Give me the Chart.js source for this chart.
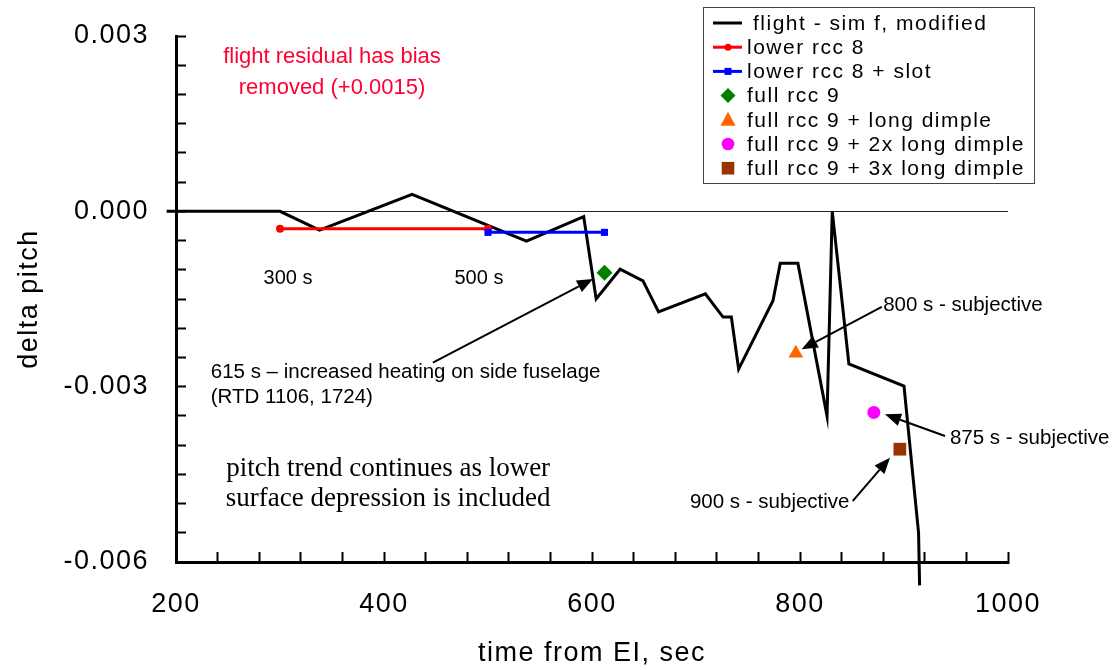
<!DOCTYPE html>
<html>
<head>
<meta charset="utf-8">
<script src="https://cdn.jsdelivr.net/npm/chart.js@4.4.1/dist/chart.umd.min.js"></script>
<style>
  html, body { margin: 0; padding: 0; background: #ffffff; }
  #wrap { width: 1116px; height: 670px; position: relative; }
</style>
</head>
<body>
<div id="wrap"><canvas id="c" width="1116" height="670"></canvas></div>
<script>
// ---------------- data ----------------
const flightTime  = [191, 300, 338, 427, 537, 592, 604, 627, 649, 664, 709, 726, 734, 741, 774, 781, 798, 826, 831, 847, 900, 914, 915];
const flightDelta = [0, 0, -0.00032, 0.00029, -0.00051, -0.00009, -0.00150, -0.00099, -0.00119, -0.00172, -0.00141, -0.00181, -0.00181, -0.00270, -0.00153, -0.00089, -0.00089, -0.00350, 0.00000, -0.00261, -0.00299, -0.00550, -0.00640];

const rcc8Time = [300, 500];
const rcc8Delta = [-0.00030, -0.00030];

const rcc8SlotTime = [500, 612];
const rcc8SlotDelta = [-0.00036, -0.00036];

const rcc9Time = [612];
const rcc9Delta = [-0.00105];

const rcc9DimpleTime = [796];
const rcc9DimpleDelta = [-0.00243];

const rcc9Dimple2Time = [871];
const rcc9Dimple2Delta = [-0.00344];

const rcc9Dimple3Time = [896];
const rcc9Dimple3Delta = [-0.00407];

const xTickLabels = [200, 400, 600, 800, 1000];
const yTickLabels = [0.003, 0.000, -0.003, -0.006];

const seriesNames = [
  'flight - sim f, modified',
  'lower rcc 8',
  'lower rcc 8 + slot',
  'full rcc 9',
  'full rcc 9 + long dimple',
  'full rcc 9 + 2x long dimple',
  'full rcc 9 + 3x long dimple'
];

// annotation texts anchored in data units (time, delta)
const noteTexts = [
  { lines: ['flight residual has bias', 'removed (+0.0015)'], t: 350, v: 0.00254, align: 'center', font: '22px "Liberation Sans", Arial, sans-serif', color: '#ff0033', lh: 31 },
  { lines: ['300 s'], t: 307.7, v: -0.00124, align: 'center', font: '20px "Liberation Sans", Arial, sans-serif', color: '#000', lh: 0 },
  { lines: ['500 s'], t: 491.3, v: -0.00124, align: 'center', font: '20px "Liberation Sans", Arial, sans-serif', color: '#000', lh: 0 },
  { lines: ['615 s \u2013 increased heating on side fuselage', '(RTD 1106, 1724)'], t: 233.4, v: -0.00285, align: 'left', font: '20.5px "Liberation Sans", Arial, sans-serif', color: '#000', lh: 25 },
  { lines: ['pitch trend continues as lower', 'surface depression is included'], t: 404, v: -0.004525, align: 'center', font: '27px "Liberation Serif", "Times New Roman", serif', color: '#000', lh: 30 },
  { lines: ['800 s - subjective'], t: 880, v: -0.001702, align: 'left', font: '20.5px "Liberation Sans", Arial, sans-serif', color: '#000', lh: 0 },
  { lines: ['875 s - subjective'], t: 944.2, v: -0.003978, align: 'left', font: '20.5px "Liberation Sans", Arial, sans-serif', color: '#000', lh: 0 },
  { lines: ['900 s - subjective'], t: 694.2, v: -0.005073, align: 'left', font: '20.5px "Liberation Sans", Arial, sans-serif', color: '#000', lh: 0 }
];

// arrows: from (t0,v0) to tip (t1,v1)
const arrowFromT = [447.0, 878.6, 939.4, 850.6];
const arrowFromV = [-0.002589, -0.001634, -0.003844, -0.004957];
const arrowTipT  = [601.0, 801.6, 881.7, 886.5];
const arrowTipV  = [-0.001156, -0.002360, -0.003473, -0.004216];

// ---------------- helpers ----------------
const pts = (xs, ys) => xs.map((x, i) => ({ x: x, y: ys[i] }));
const SANS = '"Liberation Sans", Arial, Helvetica, sans-serif';

function drawMarker(ctx, style, x, y, r, color) {
  ctx.save();
  ctx.fillStyle = color;
  ctx.beginPath();
  if (style === 'circle') {
    ctx.arc(x, y, r, 0, Math.PI * 2);
  } else if (style === 'rect') {
    ctx.rect(x - r, y - r, 2 * r, 2 * r);
  } else if (style === 'rectRot') {
    ctx.moveTo(x, y - r); ctx.lineTo(x + r, y); ctx.lineTo(x, y + r); ctx.lineTo(x - r, y); ctx.closePath();
  } else if (style === 'triangle') {
    ctx.moveTo(x, y - r); ctx.lineTo(x + r * 0.95, y + r * 0.75); ctx.lineTo(x - r * 0.95, y + r * 0.75); ctx.closePath();
  }
  ctx.fill();
  ctx.restore();
}

const spacingPlugin = {
  id: 'spacing',
  beforeDraw(chart) { chart.ctx.letterSpacing = '1.5px'; },
  beforeDatasetsDraw(chart) { chart.ctx.letterSpacing = '0px'; }
};

const annotPlugin = {
  id: 'annot',
  afterDraw(chart) {
    const ctx = chart.ctx;
    const X = chart.scales.x, Y = chart.scales.y;
    const px = t => X.getPixelForValue(t);
    const py = v => Y.getPixelForValue(v);
    ctx.save();
    ctx.letterSpacing = '0px';
    ctx.textBaseline = 'alphabetic';
    noteTexts.forEach(n => {
      ctx.font = n.font;
      ctx.fillStyle = n.color;
      ctx.textAlign = n.align;
      n.lines.forEach((ln, i) => ctx.fillText(ln, px(n.t), py(n.v) + i * n.lh));
    });
    // arrows
    ctx.strokeStyle = '#000';
    ctx.fillStyle = '#000';
    ctx.lineWidth = 2;
    for (let i = 0; i < arrowFromT.length; i++) {
      const x0 = px(arrowFromT[i]), y0 = py(arrowFromV[i]);
      const x1 = px(arrowTipT[i]), y1 = py(arrowTipV[i]);
      const ang = Math.atan2(y1 - y0, x1 - x0);
      const hl = 16, hw = 6.5;
      const bx = x1 - hl * Math.cos(ang), by = y1 - hl * Math.sin(ang);
      ctx.beginPath(); ctx.moveTo(x0, y0); ctx.lineTo(bx, by); ctx.stroke();
      ctx.beginPath();
      ctx.moveTo(x1, y1);
      ctx.lineTo(bx + hw * Math.sin(ang), by - hw * Math.cos(ang));
      ctx.lineTo(bx - hw * Math.sin(ang), by + hw * Math.cos(ang));
      ctx.closePath(); ctx.fill();
    }
    // legend box
    const lx = 703, ly = 7, lw = 331, lh = 176;
    ctx.fillStyle = '#ffffff';
    ctx.fillRect(lx, ly, lw, lh);
    ctx.strokeStyle = '#444';
    ctx.lineWidth = 1;
    ctx.strokeRect(lx + 0.5, ly + 0.5, lw, lh);
    const ds = chart.data.datasets;
    ctx.font = '21px ' + SANS;
    ctx.letterSpacing = '1.5px';
    ctx.textAlign = 'left';
    ctx.textBaseline = 'middle';
    ds.forEach((d, i) => {
      const cy = 23 + i * 24.2;
      const mx = 728;
      if (i < 3) {
        ctx.strokeStyle = d.borderColor;
        ctx.lineWidth = 3;
        ctx.beginPath(); ctx.moveTo(713, cy); ctx.lineTo(742, cy); ctx.stroke();
        if (i === 1) drawMarker(ctx, 'circle', mx, cy, 3.5, d.borderColor);
        if (i === 2) drawMarker(ctx, 'rect', mx, cy, 3.5, d.borderColor);
      } else {
        const sz = { rectRot: 7.5, triangle: 8, circle: 6.3, rect: 6.3 }[d.pointStyle];
        drawMarker(ctx, d.pointStyle, mx, cy, sz, d.backgroundColor);
      }
      ctx.fillStyle = '#000';
      ctx.fillText(d.label, i === 0 ? 753 : 747, cy + 1);
    });
    ctx.restore();
  }
};

new Chart(document.getElementById('c'), {
  type: 'line',
  data: {
    datasets: [
      { label: seriesNames[0], data: pts(flightTime, flightDelta), borderColor: '#000000', backgroundColor: '#000000', borderWidth: 3, pointRadius: 0, tension: 0, clip: false, order: 10 },
      { label: seriesNames[1], data: pts(rcc8Time, rcc8Delta), borderColor: '#ff0000', backgroundColor: '#ff0000', borderWidth: 3, pointStyle: 'circle', pointRadius: 4, pointBorderWidth: 0, order: 5 },
      { label: seriesNames[2], data: pts(rcc8SlotTime, rcc8SlotDelta), borderColor: '#0000ff', backgroundColor: '#0000ff', borderWidth: 3, pointStyle: 'rect', pointRadius: 5, pointBorderWidth: 0, order: 4 },
      { label: seriesNames[3], data: pts(rcc9Time, rcc9Delta), showLine: false, borderColor: '#008000', backgroundColor: '#008000', pointStyle: 'rectRot', pointRadius: 8, pointBorderWidth: 0, order: 3 },
      { label: seriesNames[4], data: pts(rcc9DimpleTime, rcc9DimpleDelta), showLine: false, borderColor: '#ff6600', backgroundColor: '#ff6600', pointStyle: 'triangle', pointRadius: 8.5, pointBorderWidth: 0, order: 2 },
      { label: seriesNames[5], data: pts(rcc9Dimple2Time, rcc9Dimple2Delta), showLine: false, borderColor: '#ff00ff', backgroundColor: '#ff00ff', pointStyle: 'circle', pointRadius: 6.5, pointBorderWidth: 0, order: 1 },
      { label: seriesNames[6], data: pts(rcc9Dimple3Time, rcc9Dimple3Delta), showLine: false, borderColor: '#993300', backgroundColor: '#993300', pointStyle: 'rect', pointRadius: 9, pointBorderWidth: 0, order: 0 }
    ]
  },
  options: {
    responsive: false,
    devicePixelRatio: 1,
    animation: false,
    layout: { padding: { top: 36, right: 108, left: 0, bottom: 0 } },
    plugins: { legend: { display: false }, tooltip: { enabled: false } },
    scales: {
      x: {
        type: 'linear', min: 200, max: 1000,
        ticks: {
          stepSize: 40, autoSkip: false, maxRotation: 0, padding: 36, color: '#000',
          font: { family: SANS, size: 27 },
          callback: v => (xTickLabels.some(l => Math.abs(l - v) < 1e-6) ? String(v) : '')
        },
        grid: { drawOnChartArea: false, drawTicks: true, tickLength: -10, tickWidth: 2, tickColor: '#000' },
        border: { display: true, color: '#000', width: 3 },
        title: { display: true, text: 'time from EI, sec', color: '#000', font: { family: SANS, size: 27 }, padding: { top: 0, bottom: 0 } },
        afterFit: s => { s.height = 108; s.paddingLeft = 0; s.paddingRight = 0; }
      },
      y: {
        type: 'linear', min: -0.006, max: 0.003,
        ticks: {
          stepSize: 0.0005, autoSkip: false, padding: 37, color: '#000',
          font: { family: SANS, size: 27 },
          callback: v => {
            if (!yTickLabels.some(l => Math.abs(l - v) < 1e-9)) return '';
            return Math.abs(v) < 1e-12 ? '0.000' : v.toFixed(3);
          }
        },
        grid: {
          drawOnChartArea: true, drawTicks: true, tickLength: -10, tickWidth: 2, tickColor: '#000',
          color: c => (c.tick && Math.abs(c.tick.value) < 1e-12 ? '#222' : 'rgba(0,0,0,0)'),
          lineWidth: 1
        },
        border: { display: true, color: '#000', width: 3 },
        title: { display: true, text: 'delta pitch', color: '#000', font: { family: SANS, size: 27 }, padding: { top: 13, bottom: 0 } },
        afterFit: s => { s.width = 176; s.paddingTop = 0; s.paddingBottom = 0; }
      }
    }
  },
  plugins: [spacingPlugin, annotPlugin]
});
</script>
</body>
</html>
